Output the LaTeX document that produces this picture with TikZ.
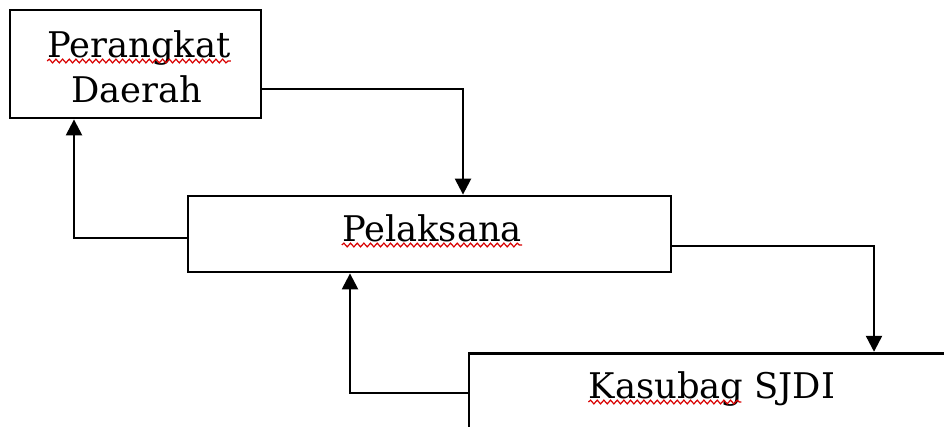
\documentclass[tikz,border=0pt]{standalone}
\usepackage{fontspec}
\setmainfont{DejaVu Serif}
\usetikzlibrary{arrows.meta,decorations.pathmorphing}
\begin{document}
\begin{tikzpicture}[x=0.75pt,y=-0.75pt,
  box/.style={draw,line width=2.1pt,inner sep=0pt,minimum width=#1},
  lbl/.style={font=\fontsize{26.5}{34}\selectfont,inner sep=0pt,anchor=base},
  arr/.style={line width=1.8pt,-{Triangle[length=12pt,width=12pt]}},
  squig/.style={red!85!black,line width=0.9pt,decorate,decoration={snake,amplitude=1.4pt,segment length=5pt}}]
\clip (0,0) rectangle (944,426);
\fill[white] (0,0) rectangle (944,426);
\node[box=188.25pt,minimum height=81pt] (pd) at (135.5,64) {};
\node[box=362.25pt,minimum height=57pt] (pl) at (429.5,234) {};
\node[box=383.25pt,minimum height=80pt] (ks) at (724.5,406.5) {};
\node[lbl] (t1) at (139,57) {Perangkat};
\node[lbl] (t2) at (137,102) {Daerah};
\node[lbl] (t3) at (432,241) {Pelaksana};
\node[lbl] (t4) at (712,398) {Kasubag SJDI};
\path (t4.base west) ++(153,0) coordinate (t4e);
\draw[squig] ([yshift=-3pt]t1.base west) -- ([yshift=-3pt]t1.base east);
\draw[squig] ([yshift=-3pt]t3.base west) -- ([yshift=-3pt]t3.base east);
\draw[squig] ([yshift=-3pt]t4.base west) -- ([yshift=-3pt]t4e);
\draw[arr] (pd.east |- 0,89) -| (pl.north -| 463,0);
\draw[arr] (pl.west |- 0,238) -| (pd.south -| 74,0);
\draw[arr] (pl.east |- 0,246) -| (ks.north -| 874,0);
\draw[arr] (ks.west |- 0,393) -| (pl.south -| 350,0);
\end{tikzpicture}
\end{document}
